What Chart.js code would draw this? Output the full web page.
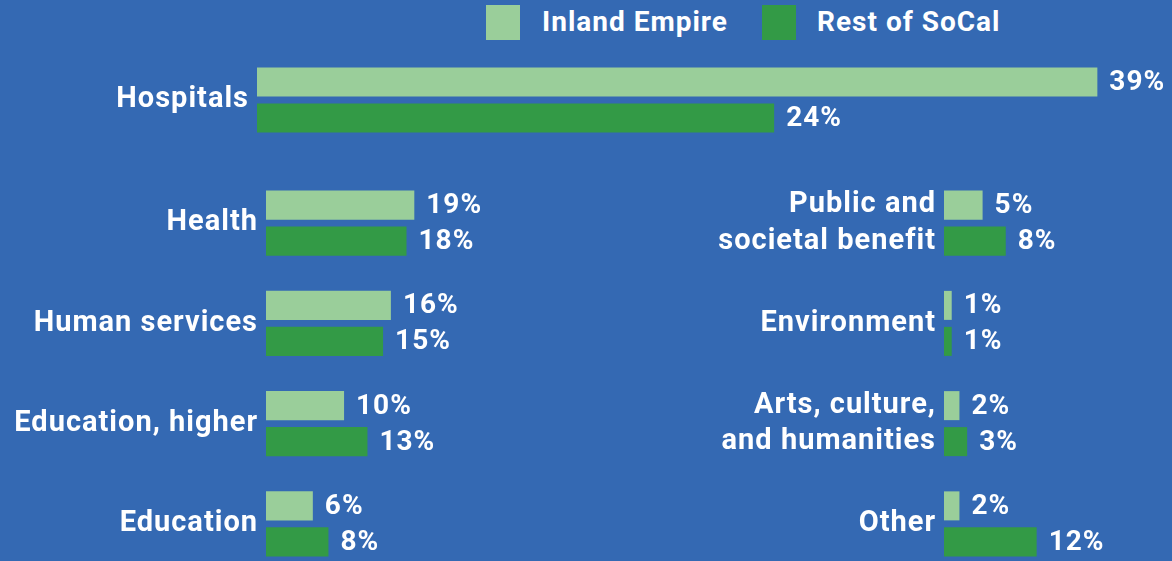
<!DOCTYPE html>
<html>
<head>
<meta charset="utf-8">
<script src="https://cdn.jsdelivr.net/npm/chart.js@4.4.1/dist/chart.umd.min.js"></script>
<style>
  html, body { margin: 0; padding: 0; }
  body { width: 1172px; height: 561px; overflow: hidden; background: #3469b3; position: relative; font-family: Roboto, sans-serif; }
  .box { position: absolute; }
  .legend-box { position: absolute; top: 5px; width: 34px; height: 35px; }
  .legend-text { position: absolute; top: 3px; line-height: 38px; font-size: 28px; font-weight: bold; color: #fff; letter-spacing: 1px; }
</style>
</head>
<body>
<div class="legend-box" style="left:486px;background:#9ace9a"></div>
<div class="legend-text" style="left:542px">Inland Empire</div>
<div class="legend-box" style="left:762px;background:#339a46"></div>
<div class="legend-text" style="left:817px">Rest of SoCal</div>

<div class="box" style="left:0;top:50px;width:1172px;height:100px"><canvas id="hospitalsChart"></canvas></div>
<div class="box" style="left:0;top:173px;width:560px;height:401px"><canvas id="leftChart"></canvas></div>
<div class="box" style="left:600px;top:173px;width:572px;height:401px"><canvas id="rightChart"></canvas></div>

<script>
// Share of funding by subsector (%)
const seriesNames = ['Inland Empire', 'Rest of SoCal'];
const seriesColors = ['#9ace9a', '#339a46'];

const topCategories = ['Hospitals'];
const topInland = [39];
const topRest = [24];

const leftCategories = ['Health', 'Human services', 'Education, higher', 'Education'];
const leftInland = [19, 16, 10, 6];
const leftRest = [18, 15, 13, 8];

const rightCategories = [['Public and', 'societal benefit'], 'Environment', ['Arts, culture,', 'and humanities'], 'Other'];
const rightInland = [5, 1, 2, 2];
const rightRest = [8, 1, 3, 12];

// a bit of tracking, like the original's DIN type
const spacing = {
    id: 'spacing',
    beforeUpdate(chart) { chart.ctx.letterSpacing = '1px'; },
    beforeDraw(chart) { chart.ctx.letterSpacing = '1px'; },
};

// draws the "39%" style labels at the end of each bar
const valueLabels = {
    id: 'valueLabels',
    afterDatasetsDraw(chart) {
        const ctx = chart.ctx;
        ctx.save();
        ctx.fillStyle = '#ffffff';
        ctx.font = 'bold 28px Roboto';
        ctx.textBaseline = 'middle';
        ctx.textAlign = 'left';
        chart.data.datasets.forEach((ds, i) => {
            chart.getDatasetMeta(i).data.forEach((bar, j) => {
                ctx.fillText(ds.data[j] + '%', bar.x + 12, bar.y + 1);
            });
        });
        ctx.restore();
    }
};

function makeChart(id, labels, inland, rest, axisWidth, xMax, padRight, catPct) {
    const ctx = document.getElementById(id).getContext('2d');
    return new Chart(ctx, {
        type: 'bar',
        data: {
            labels: labels,
            datasets: [
                { label: seriesNames[0], data: inland, backgroundColor: seriesColors[0], borderWidth: 0 },
                { label: seriesNames[1], data: rest, backgroundColor: seriesColors[1], borderWidth: 0 },
            ],
        },
        options: {
            indexAxis: 'y',
            responsive: true,
            maintainAspectRatio: false,
            animation: false,
            categoryPercentage: catPct,
            barPercentage: 0.806,
            layout: { padding: { left: 0, right: padRight, top: 0, bottom: 0 } },
            plugins: {
                legend: { display: false },
                tooltip: { enabled: false },
            },
            scales: {
                x: { display: false, min: 0, max: xMax },
                y: {
                    grid: { display: false, drawTicks: false },
                    border: { display: false },
                    ticks: {
                        color: '#ffffff',
                        padding: 8,
                        font: { family: 'Roboto', size: 29, weight: 'bold', lineHeight: 1.25 },
                    },
                    afterFit(scale) {
                        scale.width = axisWidth;
                        scale.paddingTop = 0;
                        scale.paddingBottom = 0;
                    },
                },
            },
        },
        plugins: [spacing, valueLabels],
    });
}

makeChart('hospitalsChart', topCategories, topInland, topRest, 257, 42, 10, 0.72);
makeChart('leftChart', leftCategories, leftInland, leftRest, 266, 36, 13, 72 / 100.25);
makeChart('rightChart', rightCategories, rightInland, rightRest, 344, 25, 35, 72 / 100.25);
</script>
</body>
</html>
